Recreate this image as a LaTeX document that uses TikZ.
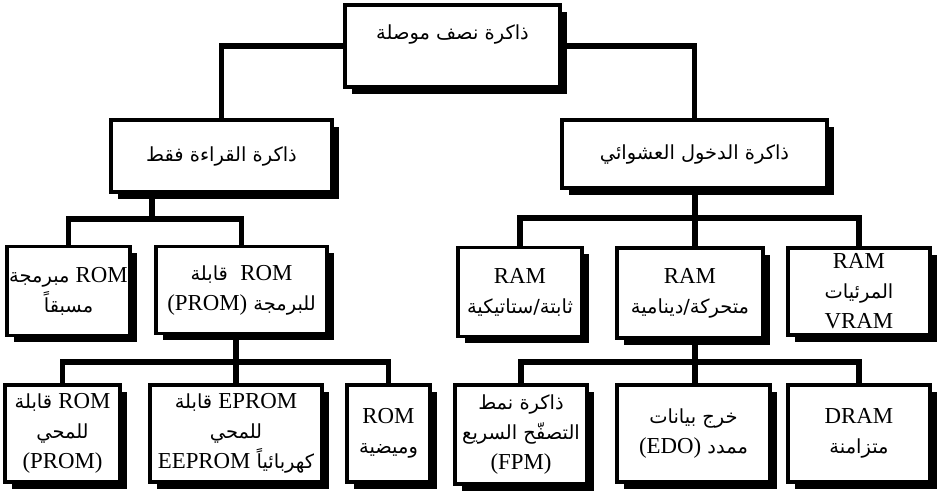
\documentclass[tikz,border=0pt]{standalone}
\usepackage{fontspec}
\setmainfont{Liberation Serif}
\newfontfamily\arabicfont[Script=Arabic,Scale=0.85]{DejaVu Sans}
\TeXXeTstate=1
\usetikzlibrary{shadows}
\newcommand{\arln}[1]{{\arabicfont\beginR #1\endR}}
\newcommand{\lat}[1]{{\rmfamily\beginL #1\endL}}
\begin{document}
\begin{tikzpicture}[line width=1.9pt,font=\fontsize{13}{17}\selectfont,
  box/.style={draw,fill=white,align=center,inner sep=1pt,
    drop shadow={shadow xshift=3.8pt,shadow yshift=-3.8pt,opacity=1,fill=black}},
  link/.style={line width=3.4pt}]
  \useasboundingbox (0,0) rectangle (18.82,9.90);

  % 总线交点
  \coordinate (robus) at (3.04,5.52);
  \coordinate (rambus) at (13.90,5.54);
  \coordinate (prombus) at (4.72,2.66);
  \coordinate (drambus) at (13.90,2.66);

  % 第一、二层
  \node[box,minimum width=4.30cm,minimum height=1.64cm,text depth=0.55cm] (mem) at (9.05,8.98) {\arln{ذاكرة نصف موصلة}};
  \node[box,minimum width=4.42cm,minimum height=1.44cm] (rom) at (4.43,6.78) {\arln{ذاكرة القراءة فقط}};
  \node[box,minimum width=5.30cm,minimum height=1.36cm] (ram) at (13.89,6.82) {\arln{ذاكرة الدخول العشوائي}};

  % 第三层
  \node[box,minimum width=2.46cm,minimum height=1.78cm] (pre) at (1.37,4.08) {\arln{\lat{ROM} مبرمجة}\\ \arln{مسبقاً}};
  \node[box,minimum width=3.42cm,minimum height=1.74cm] (prom) at (4.83,4.10) {\arln{\lat{ROM}\ \ قابلة}\\ \arln{للبرمجة \lat{(PROM)}}};
  \node[box,minimum width=2.48cm,minimum height=1.78cm] (sram) at (10.40,4.06) {RAM\\ \arln{ثابتة/ستاتيكية}};
  \node[box,minimum width=2.92cm,minimum height=1.80cm] (dram) at (13.80,4.04) {RAM\\ \arln{متحركة/دينامية}};
  \node[box,minimum width=2.84cm,minimum height=1.74cm] (vram) at (17.18,4.07) {RAM\\ \arln{المرئيات}\\ VRAM};

  % 第四层
  \node[box,minimum width=2.30cm,minimum height=1.94cm] (eprom) at (1.25,1.23) {\arln{\lat{ROM} قابلة}\\ \arln{للمحي}\\ (PROM)};
  \node[box,minimum width=3.44cm,minimum height=1.94cm] (eeprom) at (4.72,1.23) {\arln{\lat{EPROM} قابلة}\\ \arln{للمحي}\\ \arln{كهربائياً \lat{EEPROM}}};
  \node[box,minimum width=1.66cm,minimum height=1.94cm] (mask) at (7.77,1.23) {ROM\\ \arln{وميضية}};
  \node[box,minimum width=2.64cm,minimum height=1.98cm] (fpm) at (10.42,1.21) {\arln{ذاكرة نمط}\\ \arln{التصفّح السريع}\\ (FPM)};
  \node[box,minimum width=3.06cm,minimum height=1.94cm] (edo) at (13.87,1.23) {\arln{خرج بيانات}\\ \arln{ممدد \lat{(EDO)}}};
  \node[box,minimum width=2.84cm,minimum height=1.94cm] (sdram) at (17.18,1.23) {DRAM\\ \arln{متزامنة}};

  % 连线
  \draw[link] (mem.west) -| (rom.north);
  \draw[link] (mem.east) -| (ram.north);
  \draw[link] (rom.south -| robus) -- (robus);
  \draw[link] (pre.north) |- (robus) -| (prom.north);
  \draw[link] (ram.south -| rambus) -- (rambus |- dram.north);
  \draw[link] (sram.north) |- (rambus) -| (vram.north);
  \draw[link] (prom.south -| prombus) -- (prombus |- eeprom.north);
  \draw[link] (eprom.north) |- (prombus) -| (mask.north);
  \draw[link] (dram.south -| drambus) -- (drambus |- edo.north);
  \draw[link] (fpm.north) |- (drambus) -| (sdram.north);
\end{tikzpicture}
\end{document}
